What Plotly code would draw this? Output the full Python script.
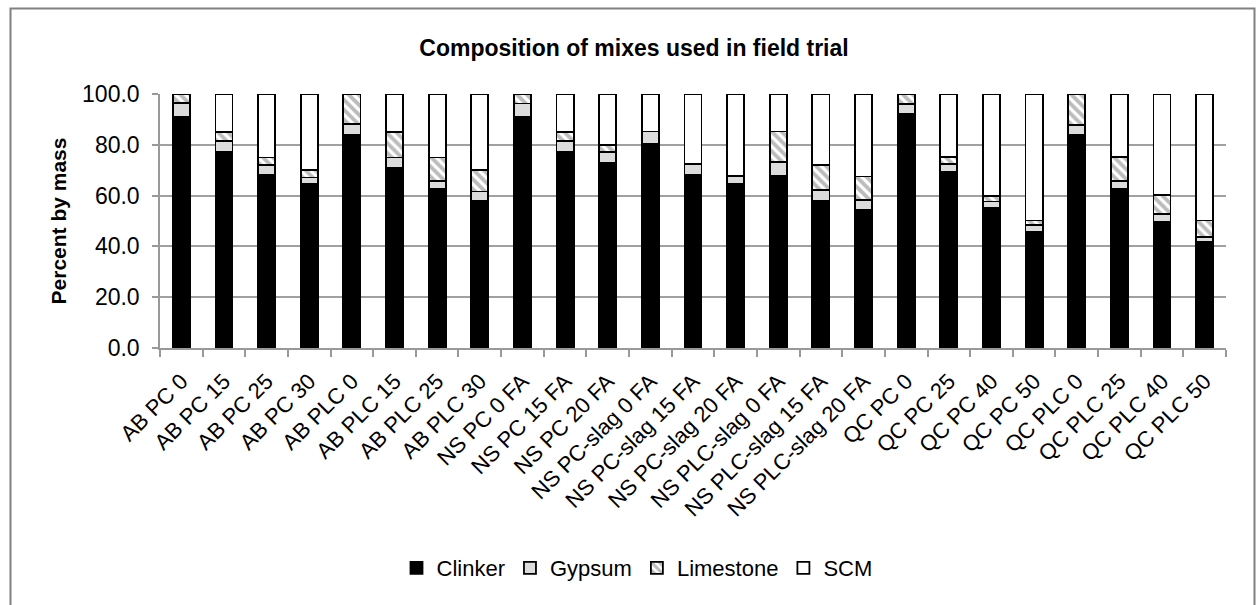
import plotly.graph_objects as go

categories = ["AB PC 0", "AB PC 15", "AB PC 25", "AB PC 30", "AB PLC 0", "AB PLC 15",
              "AB PLC 25", "AB PLC 30", "NS PC 0 FA", "NS PC 15 FA", "NS PC 20 FA",
              "NS PC-slag 0 FA", "NS PC-slag 15 FA", "NS PC-slag 20 FA",
              "NS PLC-slag 0 FA", "NS PLC-slag 15 FA", "NS PLC-slag 20 FA",
              "QC PC 0", "QC PC 25", "QC PC 40", "QC PC 50",
              "QC PLC 0", "QC PLC 25", "QC PLC 40", "QC PLC 50"]

clinker = [91.1, 77.3, 68.2, 64.5, 83.9, 70.8, 62.5, 58.1, 91.1, 77.3, 72.8,
           80.2, 68.2, 64.5, 67.9, 58.1, 54.4, 92.0, 69.2, 55.3, 45.9,
           83.9, 62.7, 49.8, 41.6]
gypsum = [5.5, 4.3, 4.0, 2.6, 4.2, 4.2, 3.4, 3.5, 5.2, 4.2, 4.3,
          5.0, 4.2, 3.3, 5.3, 4.2, 3.9, 4.1, 3.3, 2.4, 2.6,
          3.9, 3.1, 3.0, 2.1]
limestone = [3.4, 3.4, 2.8, 2.9, 11.9, 10.0, 9.1, 8.4, 3.7, 3.5, 2.9,
             0.0, 0.0, 0.0, 12.0, 9.8, 9.2, 3.9, 2.6, 2.3, 1.7,
             12.2, 9.3, 7.5, 6.5]
scm = [0.0, 15.0, 25.0, 30.0, 0.0, 15.0, 25.0, 30.0, 0.0, 15.0, 20.0,
       14.8, 27.6, 32.2, 14.8, 27.9, 32.5, 0.0, 24.9, 40.0, 49.8,
       0.0, 24.9, 39.7, 49.8]

title_text = "Composition of mixes used in field trial"
y_title = "Percent by mass"
y_ticks = [0, 20, 40, 60, 80, 100]

FONT = "Liberation Sans, Arial, sans-serif"
W, H = 1257, 605
ML, MR, MT, MB = 160, 31, 94, 257
PW, PH = W - ML - MR, H - MT - MB

line = dict(color="black", width=1.8)
fig = go.Figure()
fig.add_trace(go.Bar(name="Clinker", x=categories, y=clinker,
                     marker=dict(color="black", line=line)))
fig.add_trace(go.Bar(name="Gypsum", x=categories, y=gypsum,
                     marker=dict(color="#dcdcdc", line=line)))
fig.add_trace(go.Bar(name="Limestone", x=categories, y=limestone,
                     marker=dict(color="white", line=line,
                                 pattern=dict(shape="\\", fgcolor="#7a7a7a", bgcolor="white",
                                              size=7, solidity=0.55))))
fig.add_trace(go.Bar(name="SCM", x=categories, y=scm,
                     marker=dict(color="white", line=line)))

def px_to_paper_x(px):
    return (px - ML) / PW

def py_to_paper_y(py):
    return (H - MB - py) / PH

fig.update_layout(
    width=W, height=H,
    barmode="stack", bargap=0.6,
    paper_bgcolor="white", plot_bgcolor="white",
    margin=dict(l=ML, r=MR, t=MT, b=MB),
    font=dict(family=FONT, color="black", size=22),
    title=dict(text="<b>%s</b>" % title_text, x=634 / W, xref="container", xanchor="center",
               y=1 - 48 / H, yref="container", yanchor="middle",
               font=dict(size=23, family=FONT, color="black")),
    legend=dict(orientation="h", xref="container", x=637 / W, xanchor="center",
                yref="container", y=1 - 568 / H, yanchor="middle",
                font=dict(size=22, family=FONT), traceorder="normal",
                itemclick=False),
    xaxis=dict(type="category", tickangle=-45, tickson="boundaries",
               ticks="outside", ticklen=7, tickcolor="#999999", tickwidth=1.5,
               ticklabelstandoff=10,
               showline=True, linecolor="#999999", linewidth=1.5,
               showgrid=False, tickfont=dict(size=22, family=FONT)),
    yaxis=dict(range=[0, 100], tickvals=y_ticks, tickformat=".1f",
               ticks="outside", ticklen=6, tickcolor="#999999", tickwidth=1.5,
               ticklabelstandoff=8,
               showline=True, linecolor="#999999", linewidth=1.5,
               showgrid=True, gridcolor="#a0a0a0", gridwidth=1.5,
               zeroline=False, tickfont=dict(size=23, family=FONT),
               title=dict(text="<b>%s</b>" % y_title, standoff=10,
                          font=dict(size=21, family=FONT))),
    shapes=[dict(type="rect", xref="paper", yref="paper", layer="above",
                 x0=px_to_paper_x(10.5), x1=px_to_paper_x(1254.5),
                 y0=py_to_paper_y(608), y1=py_to_paper_y(8.5),
                 line=dict(color="#808080", width=2), fillcolor="rgba(0,0,0,0)")],
)

fig.write_html("out.html", config={"displayModeBar": False},
               post_script="document.body.style.margin='0';document.body.style.overflow='hidden';")
